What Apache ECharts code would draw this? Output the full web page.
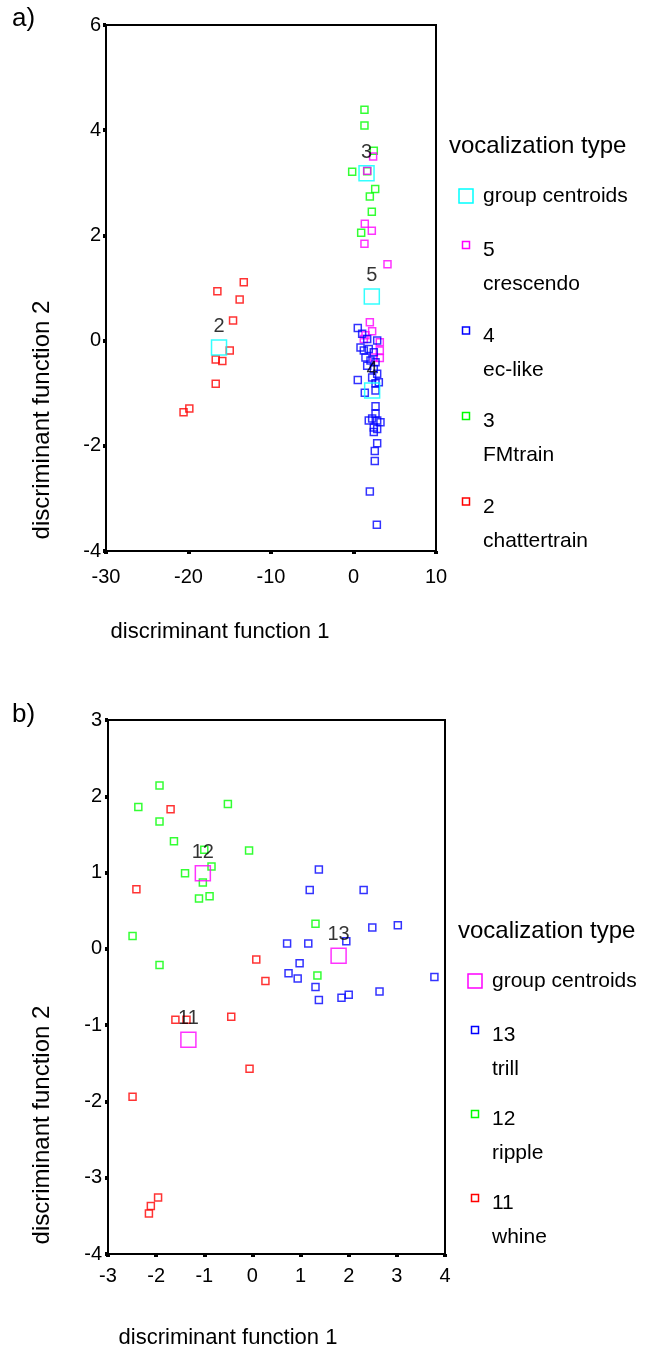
<!DOCTYPE html>
<html><head><meta charset="utf-8">
<script src="https://cdn.jsdelivr.net/npm/echarts@6/dist/echarts.min.js"></script>
<style>html,body{margin:0;padding:0;background:#fff}#c{width:649px;height:1353px}</style>
</head><body><div id="c"></div>
<script>
// ---- Panel a data: discriminant function 1 (x) vs 2 (y) ----
const aChatter = [[-13.3,1.11],[-16.5,0.94],[-13.8,0.78],[-14.6,0.38],[-15.0,-0.19],[-16.7,-0.36],[-15.9,-0.39],[-16.7,-0.82],[-19.9,-1.29],[-20.6,-1.36]];
const aFMtrain = [[1.33,4.39],[1.33,4.09],[2.46,3.61],[-0.16,3.21],[1.66,3.22],[2.63,2.88],[1.98,2.74],[2.22,2.45],[0.93,2.05]];
const aCrescendo = [[2.38,3.50],[1.66,3.23],[1.37,2.22],[2.22,2.09],[1.33,1.84],[4.12,1.45],[1.98,0.35],[2.26,0.18],[1.45,0.10],[3.19,-0.03],[3.19,-0.19],[3.19,-0.33],[2.46,-0.32],[1.25,0.03]];
const aEcLike = [[0.52,0.24],[1.05,0.13],[1.66,0.03],[2.87,0.0],[0.85,-0.13],[1.25,-0.19],[1.85,-0.16],[2.46,-0.22],[1.45,-0.32],[2.06,-0.38],[2.67,-0.41],[1.66,-0.48],[2.46,-0.54],[2.87,-0.63],[2.26,-0.70],[0.52,-0.75],[3.07,-0.79],[2.67,-0.81],[1.37,-0.99],[2.67,-0.95],[2.67,-1.25],[2.67,-1.39],[1.85,-1.52],[2.26,-1.48],[2.87,-1.52],[3.27,-1.55],[2.46,-1.65],[2.87,-1.68],[2.46,-1.74],[2.87,-1.95],[2.58,-2.10],[2.58,-2.29],[1.98,-2.87],[2.83,-3.50]];
const aCentroids = [[-16.3,-0.13],[1.58,3.18],[2.26,-0.95],[2.22,0.84]];
const aCentroidLabels = ["2","3","4","5"];
const aXTicks = [-30,-20,-10,0,10];
const aYTicks = [-4,-2,0,2,4,6];

// ---- Panel b data ----
const bWhine = [[-1.70,1.83],[-2.41,0.78],[0.08,-0.14],[0.27,-0.42],[-1.60,-0.93],[-1.37,-0.93],[-0.44,-0.89],[-0.06,-1.57],[-2.49,-1.94],[-1.96,-3.26],[-2.11,-3.37],[-2.15,-3.47]];
const bRipple = [[-1.93,2.14],[-2.37,1.86],[-0.51,1.90],[-1.93,1.67],[-1.63,1.41],[-0.07,1.29],[-1.0,1.30],[-0.85,1.08],[-1.40,0.99],[-1.03,0.87],[-1.11,0.66],[-0.89,0.69],[-2.49,0.17],[-1.93,-0.21],[1.31,0.33],[1.35,-0.35]];
const bTrill = [[1.38,1.04],[1.19,0.77],[2.31,0.77],[2.49,0.28],[3.02,0.31],[1.95,0.10],[0.72,0.07],[1.16,0.07],[0.98,-0.19],[0.75,-0.32],[0.94,-0.39],[1.31,-0.50],[1.38,-0.67],[1.85,-0.64],[2.0,-0.60],[2.64,-0.56],[3.78,-0.37]];
const bCentroids = [[-1.33,-1.19],[-1.03,0.99],[1.79,-0.09]];
const bCentroidLabels = ["11","12","13"];
const bXTicks = [-3,-2,-1,0,1,2,3,4];
const bYTicks = [-4,-3,-2,-1,0,1,2,3];

const FONT = '"Liberation Sans", Arial, sans-serif';
const chart = echarts.init(document.getElementById('c'), null, {renderer:'canvas'});

function axisCommon(min,max,interval,margin){
  return {
    type:'value', min:min, max:max, interval:interval,
    axisLine:{show:true,onZero:false,lineStyle:{color:'#000',width:2}},
    axisTick:{show:true,length:3,lineStyle:{color:'#000',width:4}},
    splitLine:{show:false},
    axisLabel:{color:'#000',fontSize:20,fontFamily:FONT,margin:margin}
  };
}
function pts(data,color,xi){
  return {type:'scatter',xAxisIndex:xi,yAxisIndex:xi,data:data,symbol:'rect',symbolSize:7,
    itemStyle:{color:'rgba(255,255,255,0)',borderColor:color,borderWidth:1.5},silent:true,z:3};
}
function cent(data,labels,color,xi){
  return {type:'scatter',xAxisIndex:xi,yAxisIndex:xi,data:data.map((d,i)=>({value:d,name:labels[i]})),
    symbol:'rect',symbolSize:15,
    itemStyle:{color:'rgba(255,255,255,0)',borderColor:color,borderWidth:1.5},
    label:{show:true,position:'top',distance:3,formatter:p=>p.name,color:'#000',fontSize:20,fontFamily:FONT},
    silent:true,z:4};
}
const cyan='#00ffff', magenta='#ff00ff', blue='#0000ff', green='#00ff00', red='#ff0000';

function legendGraphics(x0,yTitle,yFirst,step,centColor,items){
  const g=[];
  g.push({type:'text',left:x0-17,top:yTitle-14,style:{text:'vocalization type',font:'24px '+FONT,fill:'#000'}});
  g.push({type:'rect',shape:{x:x0-7,y:yFirst-7,width:14,height:14},style:{fill:'none',stroke:centColor,lineWidth:1.5}});
  g.push({type:'text',left:x0+17,top:yFirst-10,style:{text:'group centroids',font:'21px '+FONT,fill:'#000'}});
  items.forEach((it,i)=>{
    const y=yFirst+49+i*step;
    g.push({type:'rect',shape:{x:x0-3.5,y:y-3.5,width:7,height:7},style:{fill:'none',stroke:it.c,lineWidth:1.5}});
    g.push({type:'text',left:x0+17,top:y-5,style:{text:it.n,font:'21px '+FONT,fill:'#000'}});
    g.push({type:'text',left:x0+17,top:y+29,style:{text:it.l,font:'21px '+FONT,fill:'#000'}});
  });
  return g;
}

const graphic = [
  {type:'text',left:12,top:6,style:{text:'a)',font:'26px '+FONT,fill:'#000'}},
  {type:'text',left:12,top:702,style:{text:'b)',font:'26px '+FONT,fill:'#000'}},
  {type:'text',x:220,y:632,style:{text:'discriminant function 1',font:'22px '+FONT,fill:'#000',textAlign:'center',textVerticalAlign:'middle'}},
  {type:'text',x:228,y:1338,style:{text:'discriminant function 1',font:'22px '+FONT,fill:'#000',textAlign:'center',textVerticalAlign:'middle'}},
  {type:'text',x:42,y:420,rotation:Math.PI/2,style:{text:'discriminant function 2',font:'24px '+FONT,fill:'#000',textAlign:'center',textVerticalAlign:'middle'}},
  {type:'text',x:42,y:1125,rotation:Math.PI/2,style:{text:'discriminant function 2',font:'24px '+FONT,fill:'#000',textAlign:'center',textVerticalAlign:'middle'}},
  ...legendGraphics(466,148,196,85.5,cyan,[{c:magenta,n:'5',l:'crescendo'},{c:blue,n:'4',l:'ec-like'},{c:green,n:'3',l:'FMtrain'},{c:red,n:'2',l:'chattertrain'}]),
  ...legendGraphics(475,933,981,84,magenta,[{c:blue,n:'13',l:'trill'},{c:green,n:'12',l:'ripple'},{c:red,n:'11',l:'whine'}])
];

const option = {
  animation:false,
  backgroundColor:'#fff',
  grid:[
    {left:106,top:25,width:330,height:526,show:true,borderColor:'#000',borderWidth:2,backgroundColor:'rgba(0,0,0,0)'},
    {left:108,top:720,width:337,height:534,show:true,borderColor:'#000',borderWidth:2,backgroundColor:'rgba(0,0,0,0)'}
  ],
  xAxis:[
    Object.assign(axisCommon(aXTicks[0],aXTicks[aXTicks.length-1],10,16),{gridIndex:0}),
    Object.assign(axisCommon(bXTicks[0],bXTicks[bXTicks.length-1],1,12),{gridIndex:1})
  ],
  yAxis:[
    Object.assign(axisCommon(aYTicks[0],aYTicks[aYTicks.length-1],2,5),{gridIndex:0}),
    Object.assign(axisCommon(bYTicks[0],bYTicks[bYTicks.length-1],1,6),{gridIndex:1})
  ],
  series:[
    pts(aChatter,red,0), pts(aFMtrain,green,0), pts(aCrescendo,magenta,0), pts(aEcLike,blue,0),
    cent(aCentroids,aCentroidLabels,cyan,0),
    pts(bWhine,red,1), pts(bRipple,green,1), pts(bTrill,blue,1),
    cent(bCentroids,bCentroidLabels,magenta,1)
  ],
  graphic:graphic
};
chart.setOption(option);
</script></body></html>
